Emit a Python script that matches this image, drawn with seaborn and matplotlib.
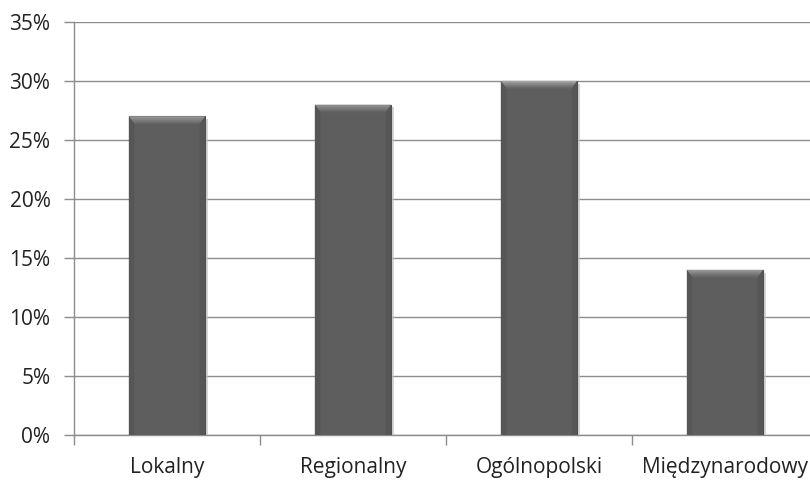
import matplotlib
matplotlib.use("Agg")
import matplotlib.pyplot as plt
import matplotlib.patheffects as pe
from matplotlib.patches import Polygon
from matplotlib.ticker import FixedLocator, PercentFormatter
import numpy as np
import seaborn as sns
import pandas as pd

categories = ["Lokalny", "Regionalny", "Ogólnopolski", "Międzynarodowy"]
shares = [27, 28, 30, 14]
y_ticks = [0, 5, 10, 15, 20, 25, 30, 35]

sns.set_theme(style="white")
plt.rcParams["font.family"] = ["Open Sans", "DejaVu Sans"]

df = pd.DataFrame({"kategoria": categories, "udzial": shares})

fig = plt.figure(figsize=(8.1, 4.8), dpi=100)
ax = fig.add_axes([74 / 810, 45 / 480, 744 / 810, 413 / 480])

sns.barplot(data=df, x="kategoria", y="udzial", color="#5e5e5e",
            width=0.41, saturation=1, ax=ax, zorder=3)

# bevelled look: soft shadow, slightly darker side edges and a light gradient band on top
bars = list(ax.patches)
for bar in bars:
    bar.set_edgecolor("#4f4f4f")
    bar.set_linewidth(0.8)
    bar.set_path_effects([pe.SimplePatchShadow(offset=(2, -2), shadow_rgbFace="#c4c4c4", alpha=0.7),
                          pe.Normal()])
    x0, w, h = bar.get_x(), bar.get_width(), bar.get_height()
    depth = 0.65   # bevel depth in data units
    inset = 0.03   # horizontal bevel inset in data units
    n = 8
    shades = np.linspace(0.66, 0.40, n)
    for i in range(n):
        t0, t1 = i / n, (i + 1) / n
        band = Polygon([(x0 + inset * t0, h - depth * t0), (x0 + w - inset * t0, h - depth * t0),
                        (x0 + w - inset * t1, h - depth * t1), (x0 + inset * t1, h - depth * t1)],
                       closed=True, facecolor=str(shades[i]), edgecolor="none", zorder=4)
        ax.add_patch(band)
    for side_x, sgn in [(x0, 1), (x0 + w, -1)]:
        edge = Polygon([(side_x, 0), (side_x, h), (side_x + sgn * inset, h - depth),
                        (side_x + sgn * inset, 0)],
                       closed=True, facecolor="#565656", edgecolor="none", zorder=4)
        ax.add_patch(edge)

ax.set_ylim(0, 35)
ax.set_xlim(-0.5, 3.5)
ax.yaxis.set_major_locator(FixedLocator(y_ticks))
ax.yaxis.set_major_formatter(PercentFormatter(decimals=0))
ax.grid(axis="y", color="#8c8c8c", linewidth=1, zorder=0)
ax.set_axisbelow(True)

for side in ["top", "right"]:
    ax.spines[side].set_visible(False)
for side in ["left", "bottom"]:
    ax.spines[side].set_color("#8c8c8c")
    ax.spines[side].set_linewidth(1)

ax.set_xlabel("")
ax.set_ylabel("")
ax.tick_params(axis="y", length=7, width=1, color="#8c8c8c", pad=10,
               labelsize=15, labelcolor="#222222", left=True)
ax.tick_params(axis="x", which="major", length=0, pad=16,
               labelsize=15, labelcolor="#222222")
ax.xaxis.set_minor_locator(FixedLocator([-0.5, 0.5, 1.5, 2.5]))
ax.tick_params(axis="x", which="minor", length=7, width=1, color="#8c8c8c", bottom=True)

fig.savefig("out.png", dpi=100, facecolor="white")
